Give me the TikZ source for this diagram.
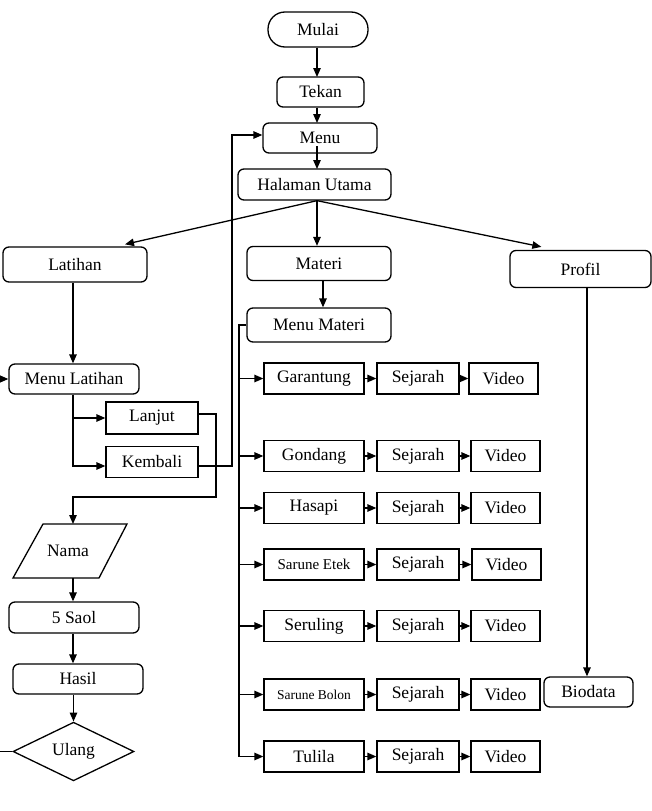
\documentclass[tikz,border=0pt]{standalone}
\usepackage{fontspec}
\setmainfont{Liberation Serif}
\usetikzlibrary{arrows.meta,calc,shapes.geometric}
\begin{document}
\begin{tikzpicture}[x=1pt,y=-1pt,line width=1.3pt,
  box/.style={draw,inner sep=0pt,font=\fontsize{17.5}{20}\selectfont},
  rbox/.style={box,rounded corners=6pt},
  arr/.style={-{Triangle[length=9pt,width=7.5pt]}},
  txt/.style={inner sep=0pt,font=\fontsize{17.5}{20}\selectfont}]
\useasboundingbox (0,0) rectangle (652,811);
\clip (0,0) rectangle (652,811);
% top column
\node[box,rounded corners=17pt,minimum width=100pt,minimum height=35pt] (mulai) at (318,29.5) {Mulai};
\node[rbox,minimum width=87pt,minimum height=30pt] (tekan) at (320.5,92) {Tekan};
\node[rbox,minimum width=114pt,minimum height=30pt] (menu) at (320,138) {Menu};
\node[rbox,minimum width=153pt,minimum height=31pt] (hu) at (314.5,184.5) {Halaman Utama};
\node[rbox,minimum width=144pt,minimum height=35pt] (latihan) at (75,264.5) {Latihan};
\node[rbox,minimum width=144pt,minimum height=34pt] (materi) at (319,263.5) {Materi};
\node[rbox,minimum width=141pt,minimum height=37pt] (profil) at (580.5,269) {Profil};
\node[rbox,minimum width=144pt,minimum height=34pt] (mmateri) at (319,325) {Menu Materi};
\node[rbox,minimum width=130pt,minimum height=30pt] (mlatihan) at (74,379) {Menu Latihan};
\node[box,minimum width=92pt,minimum height=32pt] (lanjut) at (152,418) {Lanjut};
\node[box,minimum width=92pt,minimum height=31pt] (kembali) at (152,462) {Kembali};
% Nama (parallelogram)
\draw (43,524) -- (127,524) -- (99,578) -- (13,578) -- cycle;
\node[txt] (nama) at (68,551) {Nama};
\coordinate (namatop) at (73,524);
\coordinate (namabot) at (73,578);
\node[rbox,minimum width=130pt,minimum height=31pt] (saol) at (74,617.5) {5 Saol};
\node[rbox,minimum width=130pt,minimum height=30pt] (hasil) at (78,679) {Hasil};
\node[box,diamond,minimum width=121pt,minimum height=55pt] (ulang) at (73.5,751.5) {Ulang};
\node[rbox,minimum width=89pt,minimum height=30pt] (biodata) at (588.5,692) {Biodata};
% connectors top
\draw[arr] (mulai.south -| 317,0) -- (317,77);
\draw[arr] (tekan.south -| 317,0) -- (317,123);
\draw[arr] (317,146) -- (317,169);
\draw[arr] (hu.south -| 317,0) -- ($(latihan.north)+(50,-2)$);
\draw[arr] (hu.south -| 317,0) -- (materi.north -| 317,0);
\draw[arr] (hu.south -| 317,0) -- ($(profil.north west)+(32,-3)$);
\draw[arr] (latihan.south -| 73,0) -- (mlatihan.north -| 73,0);
\draw[arr] ($(materi.south)+(4,0)$) -- ($(mmateri.north)+(4,0)$);
\draw[arr] (profil.south -| 587,0) -- (biodata.north -| 587,0);
% latihan branch
\draw[arr] (mlatihan.south -| 73,0) |- (lanjut.west);
\draw[arr] (mlatihan.south -| 73,0) |- ($(kembali.west)+(0,4)$);
\coordinate (c1) at (216,497);
\draw[arr] ($(lanjut.east)+(0,-4)$) -| (c1) -| (namatop);
\coordinate (c2) at (232,135);
\draw[arr] ($(kembali.east)+(0,4)$) -| (c2) -- (c2 -| menu.west);
\draw[arr] (namabot) -- (namabot |- saol.north);
\draw[arr] (saol.south -| 73,0) -- (hasil.north -| 73,0);
\draw[arr] (hasil.south -| 73.5,0) -- (ulang.north);
\draw[arr] (ulang.west) -- ++(-25,0) |- (mlatihan.west);
% materi branch
\coordinate (bus) at (239,325);
\foreach \i/\y/\lab/\dx in {1/378.5/Garantung/0,2/456/Gondang/2,3/508/Hasapi/2,4/564.5/{\fontsize{15}{17}\selectfont Sarune Etek}/3,5/626/Seruling/2,6/694.5/{\fontsize{13.5}{16}\selectfont Sarune Bolon}/2,7/756.5/Tulila/2}{
  \node[box,minimum width=100pt,minimum height=31pt] (g\i) at (314,\y) {\lab};
  \node[box,minimum width=82pt,minimum height=31pt] (s\i) at (418,\y) {Sejarah};
  \node[box,minimum width=69pt,minimum height=31pt] (v\i) at (503.5+\dx,\y) {Video};
  \draw[arr] (g\i) -- (s\i);
  \draw[arr] (s\i) -- (v\i);
  \draw[arr] (bus |- g\i.west) -- (g\i.west);
}
\draw (mmateri.west) -- (bus) -- (bus |- g7.west);
\end{tikzpicture}
\end{document}
